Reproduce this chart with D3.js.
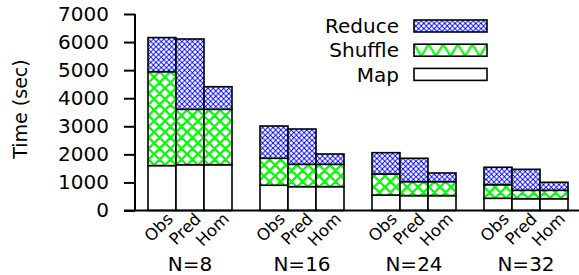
<!DOCTYPE html>
<html><head><meta charset="utf-8">
<script src="https://cdn.jsdelivr.net/npm/d3@7"></script>
<style>body{margin:0;background:#fff}svg{display:block}text{font-family:"DejaVu Sans",sans-serif;fill:#000}</style>
</head><body><svg id="c" width="579" height="275"></svg>
<script>
const groups = ["N=8","N=16","N=24","N=32"];
const methods = ["Obs","Pred","Hom"];
const seriesNames = ["Map","Shuffle","Reduce"];
// values per group, in method order Obs, Pred, Hom
const mapVals = [[1600,1630,1630],[900,850,850],[550,530,530],[435,420,420]];
const shuffleVals = [[3345,1975,1975],[960,795,795],[750,497,497],[485,300,300]];
const reduceVals = [[1215,2505,805],[1150,1258,368],[760,833,309],[620,747,285]];
const yTicks = [0,1000,2000,3000,4000,5000,6000,7000];

const svg = d3.select("#c");
const defs = svg.append("defs");
function cross(id, size, color, w){
  const p = defs.append("pattern").attr("id",id).attr("patternUnits","userSpaceOnUse")
    .attr("width",size).attr("height",size);
  p.append("rect").attr("width",size).attr("height",size).attr("fill","#fff");
  p.append("path").attr("d",`M0,0L${size},${size}M0,${size}L${size},0M${-size/2},${size/2}L${size/2},${size*1.5}M${size/2},${-size/2}L${size*1.5},${size/2}M${-size/2},${size/2}L${size/2},${-size/2}M${size/2},${size*1.5}L${size*1.5},${size/2}`)
    .attr("stroke",color).attr("stroke-width",w).attr("fill","none");
}
cross("pRed",5.2,"#0000ff",0.9);
cross("pShuf",11,"#00ff00",2.2);
const fills = {Map:"#fff",Shuffle:"url(#pShuf)",Reduce:"url(#pRed)"};

const y = d3.scaleLinear().domain([0,7000]).range([210.5,14]);
const xg = d3.scaleBand().domain(groups).range([148,568]).paddingInner(0.25);
const xm = d3.scaleBand().domain(methods).range([0,xg.bandwidth()]);

// bars
groups.forEach((g,gi)=>{
  methods.forEach((m,mi)=>{
    let base = 0;
    const vals = {Map:mapVals[gi][mi],Shuffle:shuffleVals[gi][mi],Reduce:reduceVals[gi][mi]};
    seriesNames.forEach(s=>{
      const v = vals[s];
      svg.append("rect").attr("x",xg(g)+xm(m)).attr("width",xm.bandwidth())
        .attr("y",y(base+v)).attr("height",y(base)-y(base+v))
        .attr("fill",fills[s]).attr("stroke","#000").attr("stroke-width",1.6);
      base += v;
    });
    svg.append("text").attr("transform",`translate(${xg(g)+xm(m)+xm.bandwidth()/2+12},220) rotate(-45)`)
      .attr("text-anchor","end").attr("font-size",16.5).text(m);
  });
  svg.append("text").attr("x",xg(g)+xg.bandwidth()/2).attr("y",271).attr("text-anchor","middle")
    .attr("font-size",20).text(g);
});

// y axis
const ya = svg.append("g").attr("transform","translate(135,0)")
  .call(d3.axisLeft(y).tickValues(yTicks).tickSize(11).tickPadding(15).tickFormat(d3.format("d")));
ya.select(".domain").remove();
ya.selectAll(".tick line").attr("stroke","#000").attr("stroke-width",2);
ya.selectAll(".tick text").attr("font-size",20).attr("font-family","DejaVu Sans");
svg.append("line").attr("x1",135).attr("x2",135).attr("y1",y(7000)).attr("y2",y(0)).attr("stroke","#000").attr("stroke-width",2);
svg.append("line").attr("x1",124).attr("x2",579).attr("y1",y(0)).attr("y2",y(0)).attr("stroke","#000").attr("stroke-width",2);

svg.append("text").attr("transform","translate(27,109) rotate(-90)").attr("text-anchor","middle")
  .attr("font-size",19).text("Time (sec)");

// legend
const legOrder = ["Reduce","Shuffle","Map"];
legOrder.forEach((s,i)=>{
  const cy = 26 + i*24.2;
  const rx = 414, ry = cy-6, rw = 73, rh = 12;
  let fill = fills[s];
  if (s === "Shuffle") {
    const per = rw/5;
    const p = defs.append("pattern").attr("id","pShufL").attr("patternUnits","userSpaceOnUse")
      .attr("x",rx).attr("y",ry).attr("width",per).attr("height",rh);
    p.append("rect").attr("width",per).attr("height",rh).attr("fill","#fff");
    p.append("path").attr("d",`M0,0L${per/2},${rh}L${per},0`).attr("stroke","#00ff00")
      .attr("stroke-width",2.2).attr("fill","none");
    fill = "url(#pShufL)";
  }
  svg.append("rect").attr("x",rx).attr("y",ry).attr("width",rw).attr("height",rh)
    .attr("fill",fill).attr("stroke","#000").attr("stroke-width",1.6);
  svg.append("text").attr("x",399).attr("y",cy).attr("dy","0.36em").attr("text-anchor","end")
    .attr("font-size",20).text(s);
});
</script></body></html>
